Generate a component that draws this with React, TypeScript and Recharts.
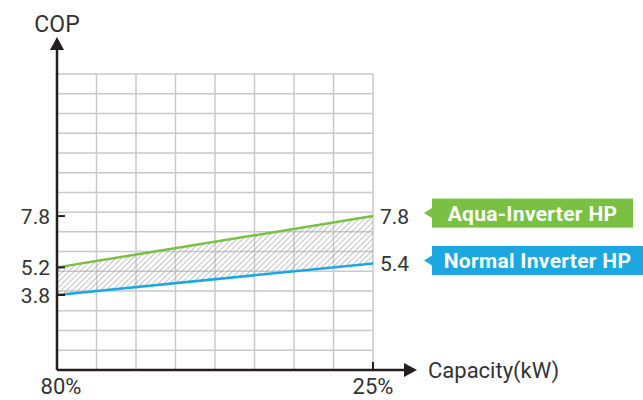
import React from 'react';
import {
  ComposedChart, Line, Area, XAxis, YAxis, CartesianGrid, LabelList,
} from 'recharts';

// capacity load points (grid column positions) and their labels
const capacityPos = [0, 8];
const capacityLabels = ['80%', '25%'];

// COP at each load point
const aquaCop = [5.2, 7.8];
const normalCop = [3.8, 5.4];

const copTicks = [3.8, 5.2, 7.8];

const seriesNames = ['Aqua-Inverter HP', 'Normal Inverter HP'];

const GREEN = '#7ac143';
const BLUE = '#1ba8e0';
const INK = '#231f20';
const TEXT = '#333';
const FONT = 'Roboto, "DejaVu Sans", sans-serif';

const data = capacityPos.map((x, i) => ({
  x,
  aqua: aquaCop[i],
  normal: normalCop[i],
  band: [normalCop[i], aquaCop[i]],
}));

const W = 643;
const H = 400;
const margin = { top: 74, right: 270, bottom: 0, left: 0 };
const Y_AXIS_W = 57;
const X_AXIS_H = 30;
const PLOT_LEFT = margin.left + Y_AXIS_W;
const PLOT_RIGHT = W - margin.right;
const PLOT_TOP = margin.top;
const PLOT_BOTTOM = H - margin.bottom - X_AXIS_H;

const YTick = (props: any) => {
  const { x, y, payload } = props;
  return (
    <g>
      <text x={x} y={y} dy="0.36em" textAnchor="end" fontSize={21} fontFamily={FONT} fill={TEXT}>
        {payload.value}
      </text>
      <line x1={x + 7} x2={x + 15} y1={y} y2={y} stroke={INK} strokeWidth={2} />
    </g>
  );
};

const XTick = (props: any) => {
  const { x, y, payload, index } = props;
  const i = capacityPos.indexOf(payload.value);
  return (
    <g>
      {index > 0 && <line x1={x} x2={x} y1={y} y2={y - 8} stroke={INK} strokeWidth={2} />}
      <text x={index > 0 ? x : x + 4} y={y + 24} textAnchor="middle" fontSize={22} fontFamily={FONT} fill={TEXT}>
        {capacityLabels[i]}
      </text>
    </g>
  );
};

const endLabel = (name: string, color: string, tagW: number) => (props: any) => {
  const { x, y, value, index } = props;
  if (index !== data.length - 1) return <g />;
  const left = x + 59;
  const cy = y - 3;
  return (
    <g>
      <text x={x + 7} y={y} dy="0.36em" fontSize={21} fontFamily={FONT} fill={TEXT}>
        {value}
      </text>
      <polygon points={`${left - 8},${cy} ${left},${cy - 5} ${left},${cy + 5}`} fill={color} />
      <rect x={left} y={cy - 14.5} width={tagW} height={29} fill={color} />
      <text
        x={left + tagW / 2}
        y={cy}
        dy="0.36em"
        textAnchor="middle"
        fontSize={21}
        letterSpacing={0.3}
        fontWeight="bold"
        fontFamily={FONT}
        fill="#fff"
      >
        {name}
      </text>
    </g>
  );
};

export default function App() {
  return (
    <div style={{ position: 'absolute', left: 0, top: 0, width: W, height: H, background: '#fff' }}>
      <ComposedChart width={W} height={H} data={data} margin={margin}>
        <defs>
          <pattern id="hatch" width={4} height={4} patternUnits="userSpaceOnUse" patternTransform="rotate(45)">
            <line x1={0} y1={0} x2={0} y2={4} stroke="#9a9a9a" strokeWidth={1.2} />
          </pattern>
        </defs>
        <CartesianGrid
          stroke="#c9c9cd"
          strokeWidth={1.5}
          horizontalValues={Array.from({ length: 16 }, (_, i) => i)}
          verticalValues={Array.from({ length: 9 }, (_, i) => i)}
        />
        <XAxis
          type="number"
          dataKey="x"
          domain={[0, 8]}
          ticks={capacityPos}
          interval={0}
          height={X_AXIS_H}
          tickSize={0}
          tickMargin={0}
          axisLine={{ stroke: INK, strokeWidth: 2.5 }}
          tickLine={false}
          tick={<XTick />}
          label={{
            content: (p: any) => (
              <text
                x={p.viewBox.x + p.viewBox.width + 55}
                y={p.viewBox.y}
                dy="0.36em"
                fontSize={22}
                fontFamily={FONT}
                fill={TEXT}
              >
                Capacity(kW)
              </text>
            ),
          }}
        />
        <YAxis
          type="number"
          domain={[0, 15]}
          ticks={copTicks}
          interval={0}
          width={Y_AXIS_W}
          tickSize={0}
          tickMargin={7}
          axisLine={{ stroke: INK, strokeWidth: 2.5 }}
          tickLine={false}
          tick={<YTick />}
          label={{
            content: (p: any) => (
              <text
                x={p.viewBox.x + p.viewBox.width}
                y={32}
                textAnchor="middle"
                fontSize={23}
                fontFamily={FONT}
                fill={TEXT}
              >
                COP
              </text>
            ),
          }}
        />
        <Area
          type="linear"
          dataKey="band"
          fill="url(#hatch)"
          fillOpacity={1}
          stroke="none"
          isAnimationActive={false}
        />
        <Line type="linear" dataKey="normal" stroke={BLUE} strokeWidth={2.5} dot={false} isAnimationActive={false}>
          <LabelList dataKey="normal" content={endLabel(seriesNames[1], BLUE, 211)} />
        </Line>
        <Line type="linear" dataKey="aqua" stroke={GREEN} strokeWidth={2.5} dot={false} isAnimationActive={false}>
          <LabelList dataKey="aqua" content={endLabel(seriesNames[0], GREEN, 201)} />
        </Line>
      </ComposedChart>
      {/* axis arrow heads */}
      <svg width={W} height={H} style={{ position: 'absolute', left: 0, top: 0, pointerEvents: 'none' }}>
        <line x1={PLOT_LEFT} x2={PLOT_LEFT} y1={PLOT_TOP + 1} y2={49} stroke={INK} strokeWidth={2.5} />
        <polygon points={`${PLOT_LEFT},37 ${PLOT_LEFT - 7},50 ${PLOT_LEFT + 7},50`} fill={INK} />
        <line x1={PLOT_RIGHT - 1} x2={405} y1={PLOT_BOTTOM} y2={PLOT_BOTTOM} stroke={INK} strokeWidth={2.5} />
        <polygon points={`417,${PLOT_BOTTOM} 404,${PLOT_BOTTOM - 7} 404,${PLOT_BOTTOM + 7}`} fill={INK} />
      </svg>
    </div>
  );
}
